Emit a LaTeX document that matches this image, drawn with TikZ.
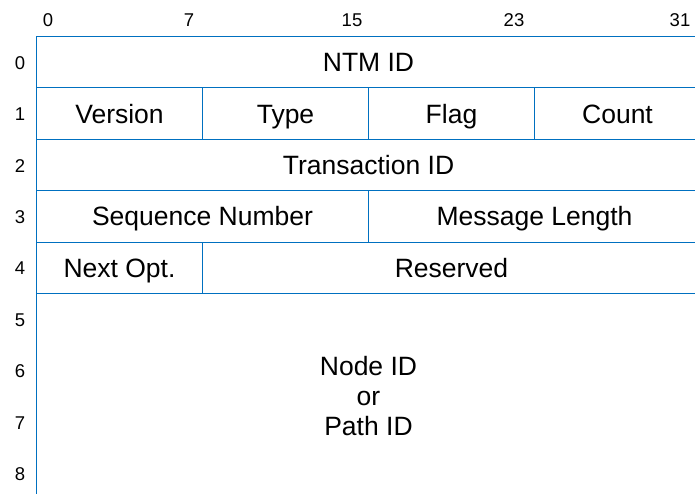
\documentclass[tikz,border=0pt]{standalone}
\usepackage{fontspec}
\setmainfont{Liberation Sans}
\definecolor{ntmblue}{RGB}{0,112,192}
\tikzset{
  box/.style={draw=ntmblue, line width=1pt, inner sep=0pt, anchor=north west,
    minimum height=51.4pt, font=\fontsize{26.5}{30}\selectfont, align=center},
  field/.style={box, text height=19pt, text depth=0pt},
  bitlabel/.style={font=\fontsize{18.5}{20}\selectfont, inner sep=0pt}
}

\begin{document}
\begin{tikzpicture}[x=1pt,y=-1pt]
        \useasboundingbox (0,0) rectangle (695,493);
        % bit numbers
        \node[bitlabel] (b0) at (48,20) {0};
        \node[bitlabel] (b7) at (189,20) {7};
        \node[bitlabel] (b15) at (352,20) {15};
        \node[bitlabel] (b23) at (514,20) {23};
        \node[bitlabel] (b31) at (680,20) {31};
        % row numbers
        \foreach \r in {0,...,8}
            \node[bitlabel] (r\r) at (20,{63+51.4*\r}) {\r};
        % fields
        \node[field, minimum width=664pt] (ntm) at (36,36) {NTM ID};
        \node[field, minimum width=166pt] (ver) at (36,87.4) {Version};
        \node[field, minimum width=166pt] (type) at (202,87.4) {Type};
        \node[field, minimum width=166pt] (flag) at (368,87.4) {Flag};
        \node[field, minimum width=166pt] (cnt) at (534,87.4) {Count};
        \node[field, minimum width=664pt] (tid) at (36,138.8) {Transaction ID};
        \node[field, minimum width=332pt] (seq) at (36,190.2) {Sequence Number};
        \node[field, minimum width=332pt] (len) at (368,190.2) {Message Length};
        \node[field, minimum width=166pt] (nxt) at (36,241.6) {Next Opt.};
        \node[field, minimum width=498pt] (res) at (202,241.6) {Reserved};
        \node[box, minimum width=664pt, minimum height=205.6pt] (nid) at (36,293) {Node ID\\or\\Path ID};
\end{tikzpicture}
\end{document}
